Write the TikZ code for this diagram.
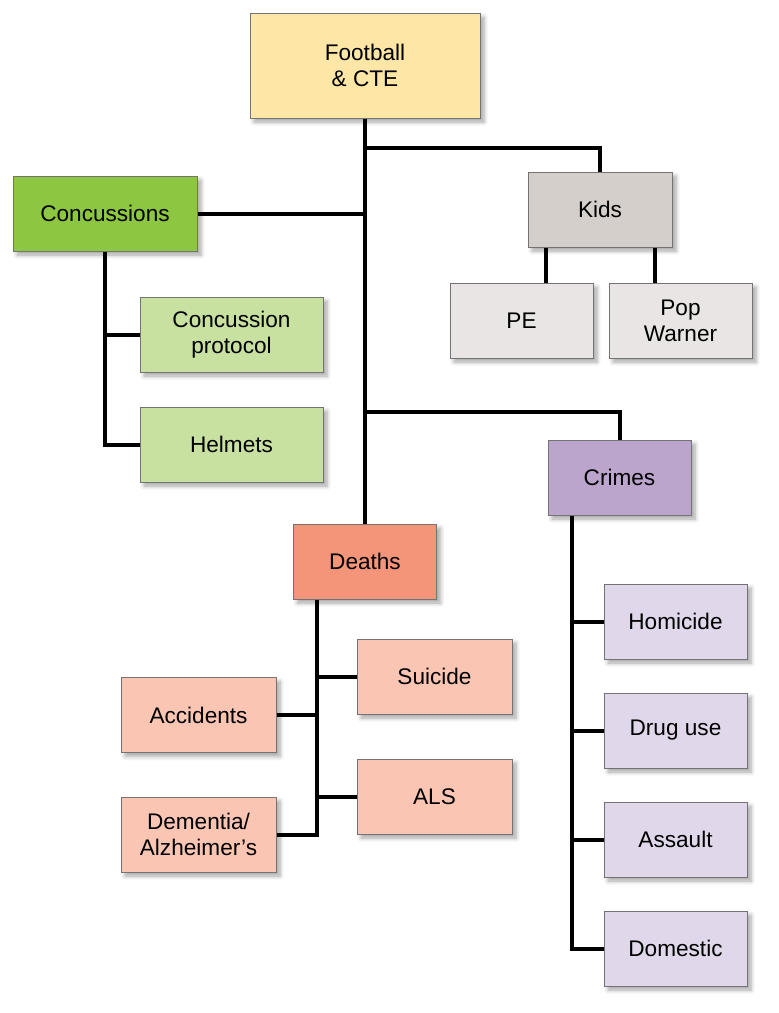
\documentclass[tikz,border=0pt]{standalone}
\usepackage{fontspec}
\setmainfont{Liberation Sans}
\usetikzlibrary{shadows.blur}

\definecolor{cteyellow}{HTML}{FDE6A6}
\definecolor{concgreen}{HTML}{8DC641}
\definecolor{concsub}{HTML}{C8E0A0}
\definecolor{kidsgray}{HTML}{D5CFCC}
\definecolor{kidssub}{HTML}{E8E5E4}
\definecolor{crimepurple}{HTML}{BBA5CD}
\definecolor{crimesub}{HTML}{E0D8EA}
\definecolor{deathred}{HTML}{F4957A}
\definecolor{deathsub}{HTML}{FAC6B3}

\begin{document}
\begin{tikzpicture}[x=0.5pt, y=-0.5pt,
  box/.style={draw=black!55, line width=0.5pt, align=center, inner sep=2pt,
    minimum height=37.5pt, font=\fontsize{11.3}{13}\selectfont,
    blur shadow={shadow xshift=2pt, shadow yshift=-2pt, shadow blur steps=6, shadow opacity=35}},
  link/.style={line width=2pt}]
\useasboundingbox (0,0) rectangle (778,1013);
% boxes
\node[box, fill=cteyellow, minimum width=115pt, minimum height=52.5pt] (football) at (365,65.5) {Football\\\& CTE};
\node[box, fill=concgreen, minimum width=92pt] (conc) at (105,213.5) {Concussions};
\node[box, fill=concsub, minimum width=91.5pt] (protocol) at (231.5,334.5) {Concussion\\protocol};
\node[box, fill=concsub, minimum width=91.5pt] (helmets) at (231.5,444.5) {Helmets};
\node[box, fill=kidsgray, minimum width=72pt] (kids) at (600,209.5) {Kids};
\node[box, fill=kidssub, minimum width=71.5pt] (pe) at (521.5,320.5) {PE};
\node[box, fill=kidssub, minimum width=71.5pt] (popwarner) at (680.5,320.5) {Pop\\Warner};
\node[box, fill=crimepurple, minimum width=71.5pt] (crimes) at (619.5,477.5) {Crimes};
\node[box, fill=crimesub, minimum width=71.5pt] (homicide) at (675.5,621.5) {Homicide};
\node[box, fill=crimesub, minimum width=71.5pt] (druguse) at (675.5,730.5) {Drug use};
\node[box, fill=crimesub, minimum width=71.5pt] (assault) at (675.5,839.5) {Assault};
\node[box, fill=crimesub, minimum width=71.5pt] (domestic) at (675.5,948.5) {Domestic};
\node[box, fill=deathred, minimum width=71.5pt] (deaths) at (365,561.5) {Deaths};
\node[box, fill=deathsub, minimum width=77.5pt] (suicide) at (434.5,676.5) {Suicide};
\node[box, fill=deathsub, minimum width=77.5pt] (als) at (434.5,796.5) {ALS};
\node[box, fill=deathsub, minimum width=77.5pt] (accidents) at (198.5,715) {Accidents};
\node[box, fill=deathsub, minimum width=77.5pt] (dementia) at (198.5,834.5) {Dementia/\\Alzheimer’s};
% junctions
\coordinate (kidsjoin) at (365,148);
\coordinate (crimesjoin) at (365,412);
\coordinate (deathbus) at ([xshift=12pt]deaths.south west);
\coordinate (crimebus) at ([xshift=12pt]crimes.south west);
% lines
\draw[link] (football) -- (deaths);
\draw[link] (kidsjoin) -| (kids);
\draw[link] (crimesjoin) -| (crimes);
\draw[link] (conc.east) -- (conc.east -| football.south);
\draw[link] (conc.south) |- (helmets.west);
\draw[link] (protocol.west) -- (protocol.west -| conc.south);
\draw[link] ([xshift=9pt]kids.south west) -- ([xshift=9pt]kids.south west |- pe.north);
\draw[link] ([xshift=-9pt]kids.south east) -- ([xshift=-9pt]kids.south east |- popwarner.north);
\draw[link] (deathbus) |- (dementia.east);
\draw[link] (suicide.west) -- (suicide.west -| deathbus);
\draw[link] (als.west) -- (als.west -| deathbus);
\draw[link] (accidents.east) -- (accidents.east -| deathbus);
\draw[link] (crimebus) |- (domestic.west);
\draw[link] (homicide.west) -- (homicide.west -| crimebus);
\draw[link] (druguse.west) -- (druguse.west -| crimebus);
\draw[link] (assault.west) -- (assault.west -| crimebus);
\end{tikzpicture}
\end{document}
